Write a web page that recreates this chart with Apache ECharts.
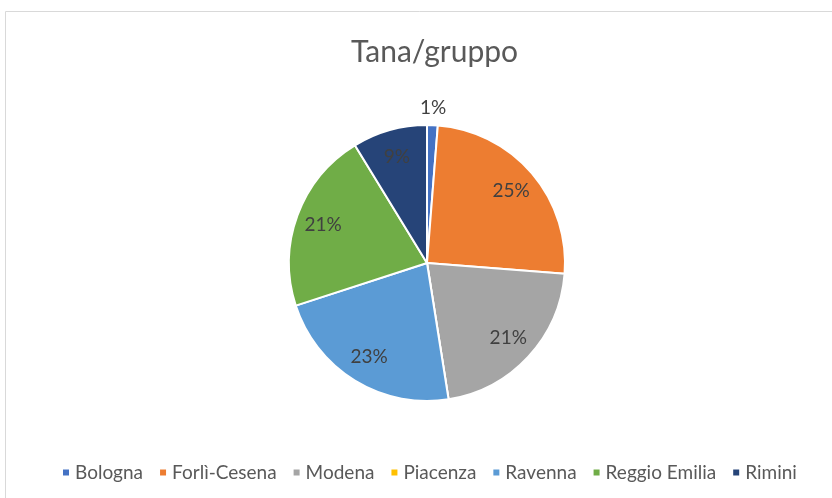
<!DOCTYPE html>
<html>
<head>
<meta charset="utf-8">
<script src="https://cdn.jsdelivr.net/npm/echarts@6/dist/echarts.min.js"></script>
<style>
  html, body { margin: 0; padding: 0; background: #fff; }
  #chart { width: 832px; height: 498px; }
</style>
</head>
<body>
<div id="chart"></div>
<script>
const categories = ['Bologna', 'Forlì-Cesena', 'Modena', 'Piacenza', 'Ravenna', 'Reggio Emilia', 'Rimini']
const counts = [1, 20, 17, 0, 18, 17, 7]
const colors = ['#4472C4', '#ED7D31', '#A5A5A5', '#FFC000', '#5B9BD5', '#70AD47', '#264478']

const font = 'Lato, "Open Sans", sans-serif'
const center = [427, 263]
const R = 138

const pieData = categories.map((name, i) => ({
  name,
  value: counts[i],
  itemStyle: { color: colors[i] }
}))

// tiny slices get their label outside the pie, the rest inside
const isSmall = v => v > 0 && v / counts.reduce((a, b) => a + b, 0) < 0.03

const labelSeries = (radius, showFn) => ({
  type: 'pie',
  center,
  radius,
  startAngle: 90,
  clockwise: true,
  percentPrecision: 0,
  silent: true,
  itemStyle: { color: 'rgba(0,0,0,0)' },
  label: {
    show: true,
    position: 'inside',
    fontFamily: font,
    fontSize: 19,
    color: '#404040',
    formatter: p => (showFn(p.value) ? p.percent + '%' : '')
  },
  labelLine: { show: false },
  emphasis: { disabled: true },
  data: categories.map((name, i) => ({ name, value: counts[i] }))
})

const chart = echarts.init(document.getElementById('chart'))

chart.setOption({
  animation: false,
  graphic: [{
    type: 'rect',
    shape: { x: 5.5, y: 11.5, width: 900, height: 600 },
    style: { fill: 'none', stroke: '#d9d9d9', lineWidth: 1 },
    silent: true
  }],
  title: {
    text: 'Tana/gruppo',
    left: 346,
    top: 32,
    textStyle: { fontFamily: font, fontSize: 30, fontWeight: 'normal', color: '#595959' }
  },
  legend: {
    bottom: 11,
    left: 56,
    itemWidth: 8,
    itemHeight: 8,
    itemGap: 15,
    icon: 'rect',
    textStyle: { fontFamily: font, fontSize: 19, color: '#595959', padding: 0 },
    data: categories
  },
  series: [
    {
      type: 'pie',
      center,
      radius: [0, R],
      startAngle: 90,
      clockwise: true,
      label: { show: false },
      labelLine: { show: false },
      itemStyle: { borderColor: '#fff', borderWidth: 2 },
      emphasis: { disabled: true },
      data: pieData
    },
    labelSeries([R * 0.56, R], v => v > 0 && !isSmall(v)),
    labelSeries([R + 7, R + 21], isSmall)
  ]
})
</script>
</body>
</html>
